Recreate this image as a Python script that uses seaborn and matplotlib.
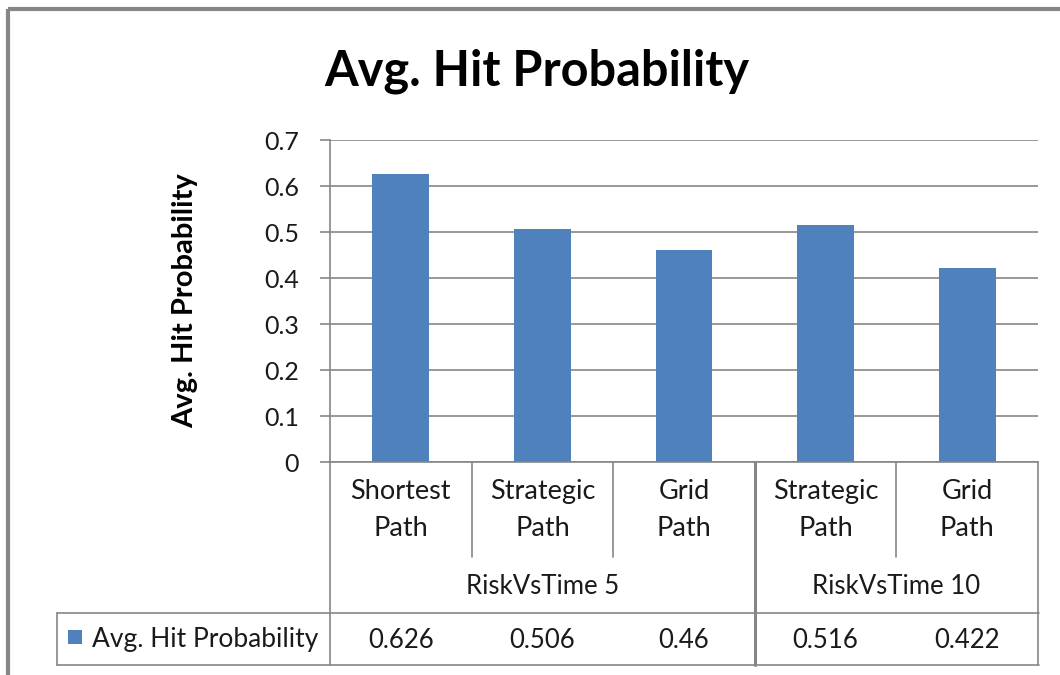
import matplotlib
matplotlib.use("Agg")
import matplotlib.pyplot as plt
import matplotlib.transforms as mtransforms
from matplotlib.patches import Rectangle
from matplotlib.lines import Line2D
import pandas as pd
import seaborn as sns

# Chart data
groups = ["RiskVsTime 5", "RiskVsTime 5", "RiskVsTime 5", "RiskVsTime 10", "RiskVsTime 10"]
paths = ["Shortest\nPath", "Strategic\nPath", "Grid\nPath", "Strategic\nPath", "Grid\nPath"]
values = [0.626, 0.506, 0.46, 0.516, 0.422]
series_name = "Avg. Hit Probability"
y_ticks = [0, 0.1, 0.2, 0.3, 0.4, 0.5, 0.6, 0.7]

BAR = "#4F81BD"
LINE = "#868686"
TEXT = "#1a1a1a"
FONT = ["Lato", "DejaVu Sans"]

sns.set_theme(style="white")
plt.rcParams["font.family"] = FONT

W, H = 1060, 675
fig = plt.figure(figsize=(W / 100, H / 100), dpi=100)

# plot area in pixel units
px_l, px_r, px_t, px_b = 330, 1038, 140, 462
ax = fig.add_axes([px_l / W, 1 - px_b / H, (px_r - px_l) / W, (px_b - px_t) / H])

keys = [f"{g}|{p}" for g, p in zip(groups, paths)]
df = pd.DataFrame({"key": keys, "value": values})
sns.barplot(data=df, x="key", y="value", order=keys, color=BAR, width=0.4,
            saturation=1, ax=ax, edgecolor="none")

ax.set_xlim(-0.5, len(keys) - 0.5)
ax.set_ylim(0, 0.7)
ax.set_yticks(y_ticks)
ax.set_yticklabels([f"{t:g}" for t in y_ticks], fontsize=18, color=TEXT)
ax.yaxis.grid(True, color=LINE, linewidth=1.2)
ax.set_axisbelow(True)
ax.tick_params(axis="y", direction="out", length=7.2, width=1.2, color=LINE, pad=15, left=True)

ax.set_xticks(range(len(keys)))
ax.set_xticklabels(paths, fontsize=19.5, color=TEXT, linespacing=1.6)
ax.tick_params(axis="x", length=0, pad=12)
ax.set_xlabel("")

ax.set_ylabel(series_name, fontsize=21, fontweight="bold", color="black", va="center")
ax.yaxis.set_label_coords(-0.205, 0.5)

for side in ["top", "right"]:
    ax.spines[side].set_visible(False)
for side in ["left", "bottom"]:
    ax.spines[side].set_color(LINE)
    ax.spines[side].set_linewidth(1.2)

fig.suptitle(series_name, x=537 / W, y=1 - 48 / H, fontsize=35, fontweight="bold",
             va="top", color="black")

# category axis separators and data table
blend = mtransforms.blended_transform_factory(ax.transData, ax.transAxes)
h_ax = px_b - px_t


def ay(py):
    return (px_b - py) / h_ax


def vline(x, y0, y1, lw=1.2, tr=blend):
    ax.add_line(Line2D([x, x], [y0, y1], transform=tr, color=LINE, lw=lw, clip_on=False))


inner_bottom = ay(557)
table_bot = ay(665)

# separators between paths inside each group, heavier between groups
for i in range(1, len(keys)):
    if groups[i] == groups[i - 1]:
        vline(i - 0.5, 0, inner_bottom)
    else:
        vline(i - 0.5, 0, table_bot, lw=2.2)
vline(-0.5, 0, table_bot)
vline(len(keys) - 0.5, 0, table_bot)

# group labels
seen = []
for g in groups:
    if g not in seen:
        seen.append(g)
for g in seen:
    idx = [i for i, gg in enumerate(groups) if gg == g]
    ax.text((idx[0] + idx[-1]) / 2, ay(587), g, transform=blend, ha="center", va="center",
            fontsize=18.5, color=TEXT)

# data table horizontal lines (from legend cell to right edge)
figpx = mtransforms.Affine2D().scale(1 / W, -1 / H).translate(0, 1) + fig.transFigure
for py in (613, 665):
    fig.add_artist(Line2D([57, px_r + 1], [py, py], transform=figpx, color=LINE, lw=1.2))
fig.add_artist(Line2D([57, 57], [613, 665], transform=figpx, color=LINE, lw=1.2))

# legend key and series name in the table
fig.add_artist(Rectangle((68, 630), 14, 14, transform=figpx, facecolor=BAR, edgecolor="none"))
fig.text(92 / W, 1 - 639 / H, series_name, fontsize=19, color=TEXT, ha="left", va="center")

# table values
for i, v in enumerate(values):
    ax.text(i, ay(640), f"{v:g}", transform=blend, ha="center", va="center",
            fontsize=18.5, color=TEXT)

# outer chart border
fig.add_artist(Rectangle((7.5, 8.5), 1200, 1000, transform=figpx, facecolor="none",
                         edgecolor=LINE, lw=3))

fig.savefig("out.png", dpi=100)
